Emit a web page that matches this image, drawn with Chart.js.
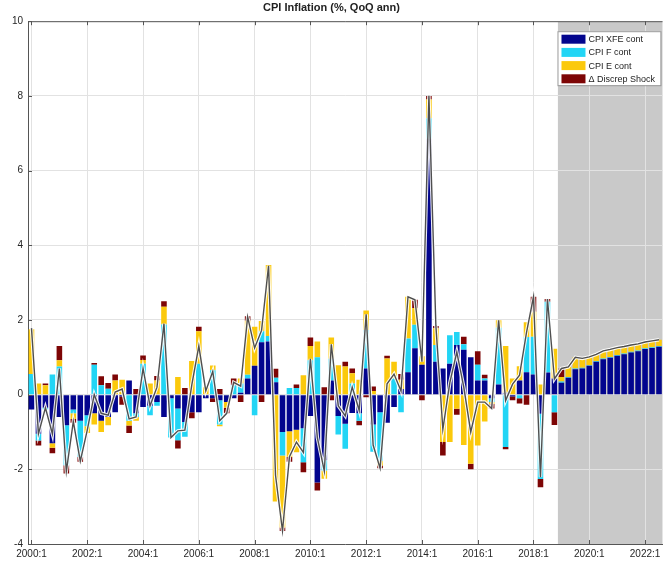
<!DOCTYPE html>
<html>
<head>
<meta charset="utf-8">
<script src="https://cdn.jsdelivr.net/npm/chart.js@4.4.1/dist/chart.umd.min.js"></script>
<style>
  html, body { margin: 0; padding: 0; background: #fff; }
</style>
</head>
<body>
<canvas id="cpiChart" width="663" height="564"></canvas>
<script>
// quarters 2000:1 .. 2022:3
const firstYear = 2000;
const nQuarters = 91;
const quarters = [];
for (let i = 0; i < nQuarters; i++) {
  quarters.push((firstYear + Math.floor(i / 4)) + ":" + (i % 4 + 1));
}
const forecastStart = "2019:1";

// contributions, two years per row
const xfe = [
  -0.4, -1.05, -0.35, -1.3, -0.6, -0.82, -0.4, -0.7,
  -0.55, -0.5, -0.7, -0.6, -0.47, -0.05, 0.38, -0.5,
  -0.33, -0.3, -0.2, -0.6, -0.1, -0.37, -0.73, -0.47,
  -0.47, -0.1, -0.1, -0.15, -0.2, -0.1, 0.05, 0.43,
  0.77, 1.4, 1.42, 0.33, -1.0, -0.98, -0.94, -0.9,
  -0.57, -2.35, -1.76, 0.38, -0.57, -0.78, -0.49, -0.5,
  0.7, -0.8, -0.47, -0.75, -0.33, 0.15, 0.6, 1.24,
  0.8, 6.85, 0.88, 0.7, 0.83, 1.33, 1.2, 1.0,
  0.38, 0.38, -0.1, 0.27, 0.05, -0.05, 0.38, 0.6,
  0.54, -0.51, 0.59, 0.43, 0.32, 0.45, 0.68, 0.7,
  0.77, 0.88, 0.95, 0.99, 1.04, 1.08, 1.13, 1.16,
  1.22, 1.25, 1.28
];
const food = [
  0.55, -0.18, -0.05, 0.54, 0.75, -1.07, -0.1, -0.97,
  -0.3, 0.8, 0.25, 0.16, 0, 0, -0.7, -0.1,
  0.83, -0.25, -0.1, 1.88, -1.05, -0.85, -0.4, 0,
  0.83, 0, 0.65, -0.65, 0, 0.25, 0.25, 0.1,
  -0.55, 0.3, 0.15, 0.12, -0.63, 0.18, 0.18, -0.91,
  0.92, 1.0, -0.27, 0.58, -0.5, -0.67, 0.3, -0.2,
  1.03, -0.73, -1.3, 0, 0.43, -0.47, 0.9, 0.63,
  0, 0.55, 0.45, 0, 0.76, 0.35, 0.15, 0,
  0.42, 0.05, -0.1, 1.52, -1.4, 0, -0.1, 0.94,
  1.01, -1.75, 1.9, -0.47, 0.03, 0.02, 0.02, 0.02,
  0.02, 0.02, 0.02, 0.02, 0.02, 0.02, 0.02, 0.02,
  0.02, 0.02, 0.02
];
const energy = [
  1.2, 0.3, 0.25, -0.12, 0.17, 0, -0.15, 0,
  -0.18, -0.3, -0.3, -0.22, 0.38, 0.4, -0.13, -0.1,
  0.1, 0.3, 0.38, 0.47, 0, 0.47, 0, 0.9,
  0.87, 0.2, 0.13, -0.05, -0.15, 0, 0.13, 1.45,
  1.05, 0.27, 1.9, -2.86, -1.93, -0.69, -0.6, 0.52,
  0.38, 0.42, -0.22, 0.57, 0.79, 0.75, 0.27, 0.4,
  0.52, 0.1, -0.13, 0.97, 0.45, 0.25, 1.12, 0.45,
  0.23, 0.5, 0.45, -1.27, -1.27, -0.38, -1.35, -1.85,
  -1.36, -0.72, -0.05, 0.2, 1.25, 0.43, 0.38, 0.4,
  0.67, 0.27, 0, 0.8, 0.12, 0.27, 0.3, 0.25,
  0.22, 0.18, 0.2, 0.2, 0.2, 0.19, 0.18, 0.18,
  0.17, 0.17, 0.17
];
const discrep = [
  0, -0.13, 0.05, -0.15, 0.38, -0.22, -0.1, -0.13,
  0, 0.05, 0.24, 0.15, 0.16, -0.22, -0.2, 0.15,
  0.12, 0, 0.12, 0.15, 0, -0.22, 0.18, -0.16,
  0.12, 0, -0.1, 0.15, -0.15, 0.18, -0.2, 0.12,
  0, -0.2, 0, 0.24, -0.09, -0.13, 0.09, -0.27,
  0.23, -0.22, 0.2, -0.15, 0, 0.13, 0.13, -0.12,
  -0.07, 0.12, -0.07, 0.07, 0, 0.15, 0, 0.22,
  -0.15, 0.1, 0.06, -0.36, 0, -0.16, 0.2, -0.15,
  0.36, 0.1, -0.12, 0, -0.06, -0.1, -0.14, -0.27,
  0.4, -0.22, 0.07, -0.34, 0.23, 0, 0, 0,
  0, 0, 0, 0, 0, 0, 0, 0,
  0, 0, 0
];
// headline CPI inflation (the line)
const total = [
  1.78, -1.05, -0.35, -1.05, 0.7, -2.05, -0.72, -1.78,
  -0.95, 0.0, -0.5, -0.55, 0.07, 0.15, -0.65, -0.6,
  0.7, -0.3, 0.2, 1.9, -1.15, -0.97, -0.95, 0.27,
  1.3, 0.1, 0.62, -0.7, -0.5, 0.33, 0.23, 2.08,
  1.25, 1.72, 3.45, -2.16, -3.65, -1.66, -1.27, -1.55,
  0.96, -1.15, -2.05, 1.35, -0.3, -0.57, 0.2, -0.42,
  2.15, -1.35, -1.97, 0.29, 0.55, 0.1, 2.62, 2.54,
  0.88, 8.0, 1.84, -0.93, 0.32, 1.14, 0.2, -1.0,
  -0.2, -0.2, -0.37, 1.99, -0.16, 0.28, 0.52, 1.67,
  2.62, -2.21, 2.56, 0.42, 0.7, 0.74, 1.0, 0.97,
  1.01, 1.08, 1.17, 1.21, 1.26, 1.29, 1.33, 1.36,
  1.41, 1.44, 1.47
];

const seriesNames = ["CPI XFE cont", "CPI F cont", "CPI E cont", "\u0394 Discrep Shock"];
const seriesColors = ["#03058e", "#22d5f5", "#fbc90c", "#7d0505"];
const fontFamily = "'Liberation Sans', Arial, Helvetica, sans-serif";

// grey forecast area, box outline, inward ticks and legend (matlab style)
const matlabLook = {
  id: "matlabLook",
  beforeDraw(chart) {
    const { ctx, chartArea, scales } = chart;
    const x = scales.x;
    const i0 = quarters.indexOf(forecastStart);
    const half = (x.getPixelForValue(1) - x.getPixelForValue(0)) / 2;
    const left = x.getPixelForValue(i0) - half;
    ctx.save();
    ctx.fillStyle = "#c9c9c9";
    ctx.fillRect(left, chartArea.top, chartArea.right - left, chartArea.bottom - chartArea.top);
    ctx.restore();
  },
  afterDraw(chart) {
    const { ctx, chartArea, scales } = chart;
    ctx.save();
    ctx.strokeStyle = "#555";
    ctx.lineWidth = 1;
    ctx.beginPath();
    ctx.moveTo(chartArea.left, chartArea.top + 0.5);
    ctx.lineTo(chartArea.right, chartArea.top + 0.5);
    // x ticks inward, top and bottom
    for (let i = 0; i < quarters.length; i += 8) {
      const px = Math.round(scales.x.getPixelForValue(i)) + 0.5;
      ctx.moveTo(px, chartArea.bottom);
      ctx.lineTo(px, chartArea.bottom - 4);
      ctx.moveTo(px, chartArea.top);
      ctx.lineTo(px, chartArea.top + 4);
    }
    scales.y.ticks.forEach(t => {
      const py = Math.round(scales.y.getPixelForValue(t.value)) + 0.5;
      ctx.moveTo(chartArea.left, py);
      ctx.lineTo(chartArea.left + 4, py);
    });
    ctx.stroke();

    // legend
    const lw = 103, lh = 54;
    const lx = chartArea.right - lw - 2;
    const ly = chartArea.top + 10;
    ctx.fillStyle = "#fff";
    ctx.fillRect(lx, ly, lw, lh);
    ctx.strokeStyle = "#9a9a9a";
    ctx.strokeRect(lx + 0.5, ly + 0.5, lw, lh);
    ctx.font = "9px " + fontFamily;
    ctx.textBaseline = "middle";
    for (let k = 0; k < seriesNames.length; k++) {
      const cy = ly + 8 + k * 13.2;
      ctx.fillStyle = seriesColors[k];
      ctx.fillRect(lx + 4, cy - 4.5, 24, 9);
      ctx.fillStyle = "#222";
      ctx.fillText(seriesNames[k], lx + 31, cy + 0.5);
    }
    ctx.restore();
  }
};

const bars = [xfe, food, energy, discrep].map((d, k) => ({
  type: "bar",
  label: seriesNames[k],
  data: d,
  backgroundColor: seriesColors[k],
  borderWidth: 0,
  barPercentage: 0.8,
  categoryPercentage: 1.0
}));

const ctx = document.getElementById("cpiChart").getContext("2d");
const chart = new Chart(ctx, {
  type: "bar",
  data: {
    labels: quarters,
    datasets: bars.concat([
      {
        type: "line",
        label: "halo",
        data: total,
        stack: "halo",
        borderColor: "rgba(255,255,255,0.9)",
        borderWidth: 3.5,
        pointRadius: 0,
        tension: 0,
        order: -1
      },
      {
        type: "line",
        label: "CPI",
        data: total,
        stack: "cpi",
        borderColor: "#4f4f4f",
        borderWidth: 1.4,
        pointRadius: 0,
        tension: 0,
        order: -2
      }
    ])
  },
  options: {
    responsive: false,
    animation: false,
    devicePixelRatio: 1,
    layout: { padding: { left: 0, right: 0, top: 0, bottom: 0 } },
    plugins: {
      legend: { display: false },
      tooltip: { enabled: false },
      title: {
        display: true,
        text: "CPI Inflation (%, QoQ ann)",
        color: "#222",
        font: { family: fontFamily, size: 11, weight: "bold" },
        padding: { top: 1, bottom: 7 }
      }
    },
    scales: {
      x: {
        stacked: true,
        offset: true,
        grid: {
          offset: false,
          drawTicks: false,
          color: c => (c.index % 8 === 0 ? "#e2e2e2" : "rgba(0,0,0,0)")
        },
        border: { color: "#555" },
        ticks: {
          autoSkip: false,
          maxRotation: 0,
          padding: 4,
          color: "#262626",
          font: { family: fontFamily, size: 10 },
          callback: (v, i) => (i % 8 === 0 ? quarters[i] : "")
        },
        afterFit: s => { s.height = 20; }
      },
      y: {
        stacked: true,
        min: -4,
        max: 10,
        grid: { color: "#e2e2e2", drawTicks: false },
        border: { color: "#555" },
        ticks: {
          stepSize: 2,
          padding: 5,
          color: "#262626",
          font: { family: fontFamily, size: 10 }
        },
        afterFit: s => { s.width = 28; }
      }
    }
  },
  plugins: [matlabLook]
});
</script>
</body>
</html>
